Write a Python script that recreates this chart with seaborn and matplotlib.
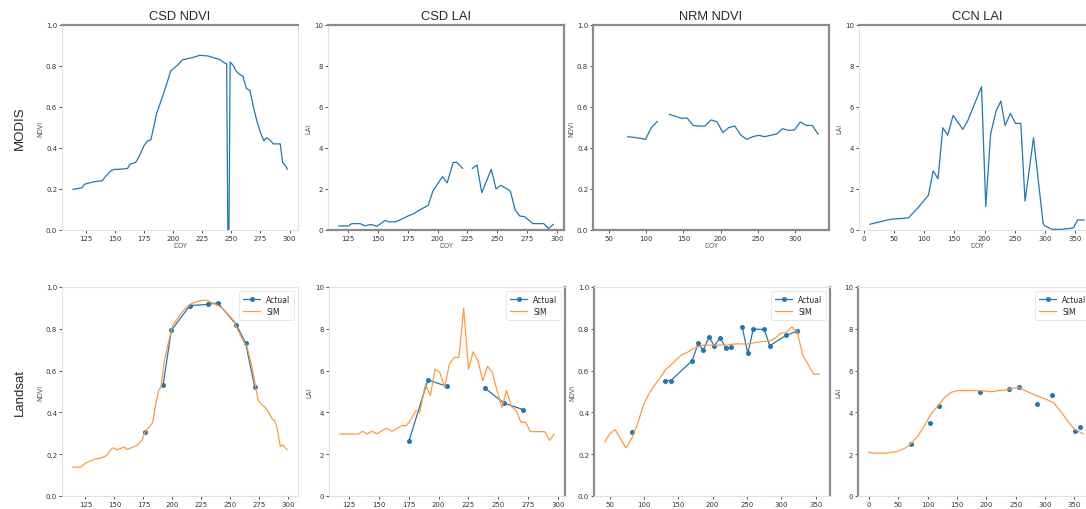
import numpy as np
import matplotlib
matplotlib.use("Agg")
import matplotlib.pyplot as plt
import seaborn as sns

# ---------------- data ----------------
# MODIS CSD NDVI
csd_ndvi_modis_doy = [114, 122, 124, 131, 137, 139, 142, 147, 150, 154, 161, 163, 168, 171, 175, 178,
                      181, 183, 186, 191, 195, 198, 201, 205, 208, 216, 223, 230, 235, 240, 244, 246,
                      247, 248, 249, 252, 254, 257, 260, 263, 266, 269, 272, 275, 278, 280, 283, 286,
                      292, 294, 297, 298]
csd_ndvi_modis_val = [0.198, 0.206, 0.223, 0.234, 0.239, 0.239, 0.26, 0.29, 0.296, 0.296, 0.30, 0.32,
                      0.33, 0.36, 0.41, 0.434, 0.44, 0.49, 0.57, 0.65, 0.72, 0.776, 0.79, 0.81, 0.83,
                      0.84, 0.852, 0.849, 0.84, 0.832, 0.816, 0.81, 0.0, 0.0, 0.82, 0.80, 0.776, 0.76,
                      0.75, 0.69, 0.68, 0.60, 0.53, 0.475, 0.434, 0.45, 0.44, 0.42, 0.42, 0.33, 0.31,
                      0.295]

# MODIS CSD LAI
csd_lai_modis_doy = [117, 125, 128, 135, 139, 143, 145, 149, 152, 156, 159, 165, 175, 180, 185, 192,
                     196, 204, 208, 213, 216, 221, 225, 229, 233, 237, 245, 249, 253, 261, 265, 269,
                     273, 280, 289, 293, 297]
csd_lai_modis_val = [0.2, 0.2, 0.31, 0.31, 0.2, 0.26, 0.26, 0.18, 0.3, 0.47, 0.4, 0.4, 0.68, 0.8,
                     0.98, 1.2, 1.9, 2.6, 2.3, 3.3, 3.3, 3.0, np.nan, 3.0, 3.17, 1.82, 2.96, 2.0,
                     2.18, 1.9, 0.98, 0.68, 0.65, 0.31, 0.31, 0.07, 0.28]

# MODIS NRM NDVI
nrm_ndvi_modis_doy = [43, 51, 59, 67, 75, 83, 91, 99, 107, 115, 123, 131, 139, 147, 155, 163, 171, 179,
                      187, 195, 203, 211, 219, 227, 235, 243, 251, 259, 267, 275, 283, 291, 299, 307,
                      315, 323, 331]
nrm_ndvi_modis_val = [np.nan, np.nan, np.nan, np.nan, 0.455, 0.452, 0.448, 0.442, 0.50, 0.53, np.nan,
                      0.564, 0.555, 0.545, 0.546, 0.51, 0.507, 0.507, 0.537, 0.528, 0.475, 0.50, 0.507,
                      0.463, 0.442, 0.455, 0.462, 0.455, 0.462, 0.468, 0.494, 0.486, 0.488, 0.527,
                      0.51, 0.51, 0.467]

# MODIS CCN LAI
ccn_lai_modis_doy = [10, 44, 57, 74, 90, 107, 115, 123, 131, 139, 148, 164, 172, 195, 202, 210, 219,
                     227, 234, 243, 251, 260, 267, 281, 297, 300, 312, 325, 336, 347, 354, 365]
ccn_lai_modis_val = [0.28, 0.52, 0.55, 0.59, 1.09, 1.69, 2.88, 2.5, 4.99, 4.62, 5.59, 4.91, 5.32,
                     6.99, 1.14, 4.67, 5.8, 6.29, 5.1, 5.69, 5.2, 5.2, 1.41, 4.5, 0.3, 0.2, 0.03,
                     0.03, 0.06, 0.1, 0.49, 0.49]

# Landsat CSD NDVI
csd_ndvi_act_doy = [176, 184, 192, 199, 215, 231, 239, 255, 263, 271]
csd_ndvi_act_val = [0.308, np.nan, 0.533, 0.792, 0.911, 0.917, 0.924, 0.82, 0.733, 0.521]
csd_ndvi_sim_doy = [114, 121, 125, 130, 134, 138, 142, 144, 148, 150, 152, 156, 158, 161, 166, 170,
                    174, 177, 181, 183, 185, 188, 190, 193, 196, 200, 203, 207, 211, 216, 221, 226,
                    230, 234, 240, 244, 249, 253, 256, 261, 264, 268, 271, 274, 278, 280, 283, 286,
                    288, 290, 293, 295, 299]
csd_ndvi_sim_val = [0.138, 0.138, 0.157, 0.17, 0.178, 0.181, 0.19, 0.20, 0.229, 0.229, 0.221, 0.229,
                    0.234, 0.223, 0.234, 0.245, 0.27, 0.313, 0.337, 0.353, 0.424, 0.504, 0.52, 0.647,
                    0.722, 0.814, 0.838, 0.87, 0.897, 0.92, 0.93, 0.937, 0.936, 0.925, 0.909, 0.893,
                    0.862, 0.838, 0.798, 0.742, 0.719, 0.631, 0.544, 0.456, 0.432, 0.424, 0.40,
                    0.369, 0.361, 0.329, 0.237, 0.245, 0.221]

# Landsat CSD LAI
csd_lai_act_doy = [175, 191, 207, 223, 239, 255, 271]
csd_lai_act_val = [2.62, 5.55, 5.25, np.nan, 5.15, 4.44, 4.13]
csd_lai_sim_doy = [117, 133, 136, 140, 144, 148, 156, 161, 169, 173, 177, 181, 184, 189, 193, 197,
                   201, 205, 209, 213, 217, 221, 225, 229, 233, 237, 241, 245, 249, 253, 257, 261,
                   265, 269, 273, 277, 289, 293, 297]
csd_lai_sim_val = [2.97, 2.97, 3.1, 2.97, 3.1, 2.97, 3.24, 3.1, 3.37, 3.37, 3.69, 4.09, 3.97, 5.36,
                   4.8, 6.07, 5.91, 5.2, 6.31, 6.63, 6.63, 8.98, 6.07, 6.9, 6.47, 5.52, 6.2, 5.91,
                   5.04, 4.24, 5.04, 4.28, 4.09, 3.53, 3.53, 3.08, 3.08, 2.66, 2.97]

# Landsat NRM NDVI
nrm_ndvi_act_doy = [83, 107, 131, 139, 170, 179, 186, 195, 202, 211, 219, 227, 235, 243, 251, 259,
                    275, 283, 307, 323]
nrm_ndvi_act_val = [0.305, np.nan, 0.552, 0.552, 0.647, 0.73, 0.698, 0.76, 0.719, 0.756, 0.709,
                    0.711, np.nan, 0.809, 0.682, 0.798, 0.797, 0.719, 0.769, 0.789]
nrm_ndvi_sim_doy = [43, 50, 58, 66, 74, 83, 91, 99, 107, 115, 123, 131, 139, 147, 155, 163, 171, 179,
                    187, 195, 220, 234, 251, 268, 283, 291, 299, 307, 315, 323, 331, 347, 355]
nrm_ndvi_sim_val = [0.258, 0.297, 0.318, 0.273, 0.23, 0.281, 0.348, 0.432, 0.488, 0.528, 0.563,
                    0.603, 0.626, 0.652, 0.676, 0.687, 0.703, 0.715, 0.722, 0.722, 0.722, 0.728,
                    0.727, 0.738, 0.741, 0.755, 0.779, 0.782, 0.809, 0.785, 0.674, 0.583, 0.583]

# Landsat CCN LAI
ccn_lai_act_doy = [72, 88, 104, 112, 119, 155, 190, 215, 239, 247, 255, 271, 287, 300, 312, 330,
                   351, 356, 360]
ccn_lai_act_val = [2.5, np.nan, 3.5, np.nan, 4.3, np.nan, 5.0, np.nan, 5.12, np.nan, 5.23, np.nan,
                   4.4, np.nan, 4.83, np.nan, 3.1, np.nan, 3.32]
ccn_lai_sim_doy = [0, 8, 31, 48, 62, 73, 84, 95, 106, 118, 129, 140, 151, 165, 188, 199, 210, 221,
                   232, 255, 266, 283, 300, 314, 328, 342, 350, 361, 365]
ccn_lai_sim_val = [2.1, 2.05, 2.05, 2.13, 2.29, 2.53, 2.89, 3.37, 3.93, 4.32, 4.72, 4.96, 5.04,
                   5.04, 5.04, 5.02, 4.99, 5.04, 5.07, 5.2, 5.04, 4.83, 4.64, 4.48, 4.0, 3.45,
                   3.21, 3.02, 2.98]

titles = ["CSD NDVI", "CSD LAI", "NRM NDVI", "CCN LAI"]
row_labels = ["MODIS", "Landsat"]
ylabels = ["NDVI", "LAI", "NDVI", "LAI"]

# ---------------- style ----------------
sns.set_theme(style="white")
plt.rcParams["font.family"] = ["DejaVu Sans"]

BLUE = "#1f77b4"
ORANGE = "#ff9a3c"

fig = plt.figure(figsize=(10.86, 5.10), dpi=100)
W, H = 1086.0, 510.0


def add_ax(left, top, width, height):
    return fig.add_axes([left / W, 1 - (top + height) / H, width / W, height / H])


top_lefts = [62, 328, 593, 859]
bot_lefts = [62, 329, 594, 858]
top_axes = [add_ax(l, 26, 236, 205) for l in top_lefts]
bot_axes = [add_ax(l, 288, 236, 209) for l in bot_lefts]


def draw(ax, x, y, color, label=None, marker=None):
    x = np.asarray(x, float)
    y = np.asarray(y, float)
    idx = np.flatnonzero(~np.isnan(y))
    runs = np.split(idx, np.where(np.diff(idx) != 1)[0] + 1)
    first = True
    for r in runs:
        if len(r) == 0:
            continue
        sns.lineplot(x=x[r], y=y[r], ax=ax, color=color, linewidth=0.9,
                     marker=marker, markersize=3.6 if marker else 0,
                     markeredgewidth=0, label=label if first else None,
                     legend=False)
        first = False


def style(ax, ylab, ymax, dark=(), xlim=None):
    ax.set_ylim(0, ymax)
    if xlim is not None:
        ax.set_xlim(*xlim)
    ax.set_xlabel("DOY", fontsize=4.8, color="#555555", labelpad=1)
    ax.set_ylabel(ylab, fontsize=4.8, color="#555555", labelpad=2)
    ax.tick_params(axis="both", labelsize=5, colors="#333333", length=2, width=0.6, pad=1.5,
                   bottom=True, left=True)
    for name, sp in ax.spines.items():
        if name in dark:
            sp.set_color("#8a8a8a")
            sp.set_linewidth(1.6)
        else:
            sp.set_color("#e0e0e0")
            sp.set_linewidth(0.8)


# top row (MODIS)
draw(top_axes[0], csd_ndvi_modis_doy, csd_ndvi_modis_val, BLUE)
draw(top_axes[1], csd_lai_modis_doy, csd_lai_modis_val, BLUE)
draw(top_axes[2], nrm_ndvi_modis_doy, nrm_ndvi_modis_val, BLUE)
draw(top_axes[3], ccn_lai_modis_doy, ccn_lai_modis_val, BLUE)

top_dark = [("top",), ("top", "right", "bottom"), ("top", "right", "bottom", "left"), ("top",)]
for i, ax in enumerate(top_axes):
    style(ax, ylabels[i], 1.0 if "NDVI" in titles[i] else 10, dark=top_dark[i],
          xlim=(28.5, 345.5) if i == 2 else None)
    ax.set_title(titles[i], fontsize=9.3, family="Liberation Sans", pad=4)

# bottom row (Landsat)
act = [(csd_ndvi_act_doy, csd_ndvi_act_val), (csd_lai_act_doy, csd_lai_act_val),
       (nrm_ndvi_act_doy, nrm_ndvi_act_val), (ccn_lai_act_doy, ccn_lai_act_val)]
sim = [(csd_ndvi_sim_doy, csd_ndvi_sim_val), (csd_lai_sim_doy, csd_lai_sim_val),
       (nrm_ndvi_sim_doy, nrm_ndvi_sim_val), (ccn_lai_sim_doy, ccn_lai_sim_val)]
bot_dark = [(), ("right",), ("left", "right"), ("left",)]
for i, ax in enumerate(bot_axes):
    draw(ax, act[i][0], act[i][1], BLUE, label="Actual", marker="o")
    draw(ax, sim[i][0], sim[i][1], ORANGE, label="SIM")
    style(ax, ylabels[i], 1.0 if "NDVI" in titles[i] else 10, dark=bot_dark[i])
    leg = ax.legend(loc="upper right", fontsize=5.5, frameon=True, borderpad=0.5,
                    handlelength=2.2, labelspacing=0.4)
    leg.get_frame().set_edgecolor("#dddddd")
    leg.get_frame().set_linewidth(0.6)

fig.text(20 / W, 1 - 128 / H, row_labels[0], rotation=90, ha="center", va="center",
         fontsize=9.5, family="Liberation Sans")
fig.text(20 / W, 1 - 392 / H, row_labels[1], rotation=90, ha="center", va="center",
         fontsize=9.5, family="Liberation Sans")

fig.savefig("out.png", dpi=100)
